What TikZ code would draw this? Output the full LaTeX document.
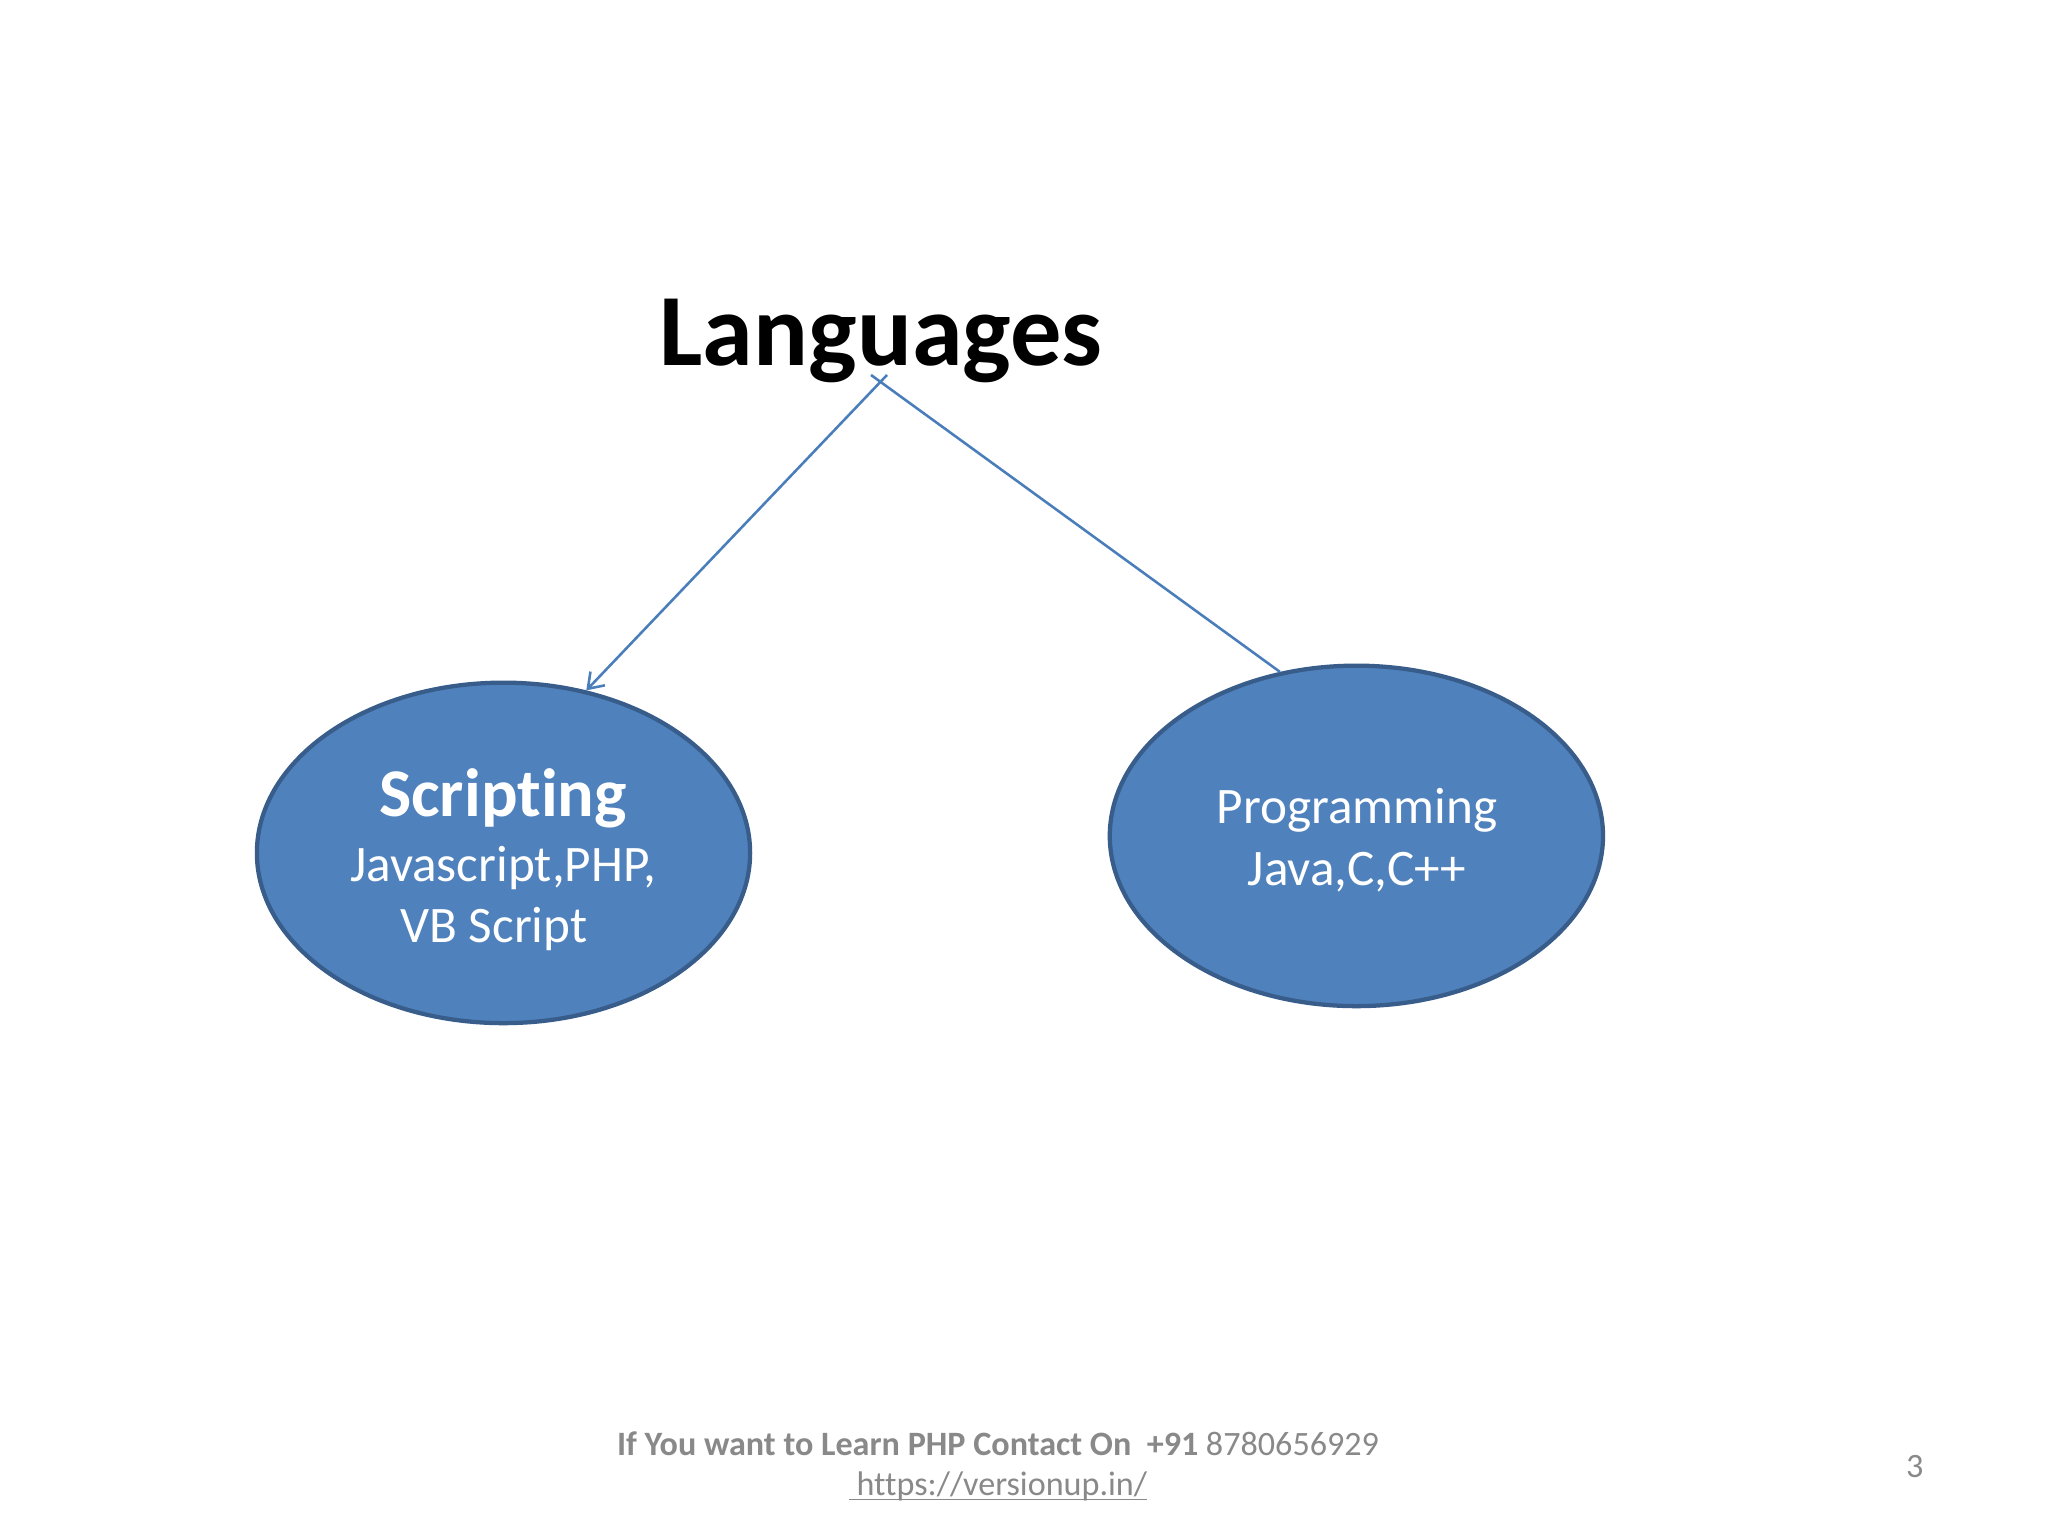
\documentclass[tikz,border=0pt]{standalone}
\usepackage{fontspec}
\setmainfont{Carlito}[Ligatures={NoCommon,NoContextual}]
\usetikzlibrary{shapes.geometric,arrows.meta}
\definecolor{ofill}{HTML}{4F81BD}
\definecolor{oborder}{HTML}{385D8A}
\definecolor{oline}{HTML}{4A7EBB}
\definecolor{ogray}{HTML}{898989}
\tikzset{
  bubble/.style={ellipse, draw=oborder, fill=ofill, line width=1.5pt,
    minimum width=173.4pt, minimum height=119.7pt, inner sep=0pt},
  intext/.style={anchor=base, text=white, inner sep=0pt, font=\fontsize{18}{22}\selectfont},
  conn/.style={draw=oline, line width=0.9pt},
  foot/.style={anchor=base, text=ogray, inner sep=0pt, font=\fontsize{12}{14}\selectfont}
}
\begin{document}
\begin{tikzpicture}[x=0.3515625pt, y=-0.3515625pt]
\useasboundingbox[fill=white] (0,0) rectangle (2048,1536);

\node[anchor=base, inner sep=0pt, font=\fontsize{36}{43}\selectfont\bfseries] (lang) at (881,365.7) {Languages};

\node[bubble] (script) at (503.5,852.9) {};
\node[bubble] (prog) at (1356.4,835.9) {};

\node[intext, font=\fontsize{24}{29}\selectfont\bfseries] (s1) at (503,816) {Scripting};
\node[intext] (s2) at (503,881.5) {Javascript,PHP,};
\node[intext] (s3) at (494,942) {VB Script};

\node[intext] (p1) at (1357,823.5) {Programming};
\node[intext] (p2) at (1357,885) {Java,C,C++};

\coordinate (lstart) at (887,375);
\coordinate (rstart) at (871,375);

\draw[conn, -{Straight Barb[length=5pt,width=7pt]}] (lstart) -- (script.63.4);
\draw[conn] (rstart) -- (prog.115.1);

\node[foot] (f1) at (998,1455) {\textbf{If You want to Learn PHP Contact On\ \ +91} 8780656929};
\node[foot] (f2) at (998,1495.5) {\underline{\smash{\ https://versionup.in/}}};
\node[foot] (pg) at (1914.7,1477) {3};
\end{tikzpicture}
\end{document}
